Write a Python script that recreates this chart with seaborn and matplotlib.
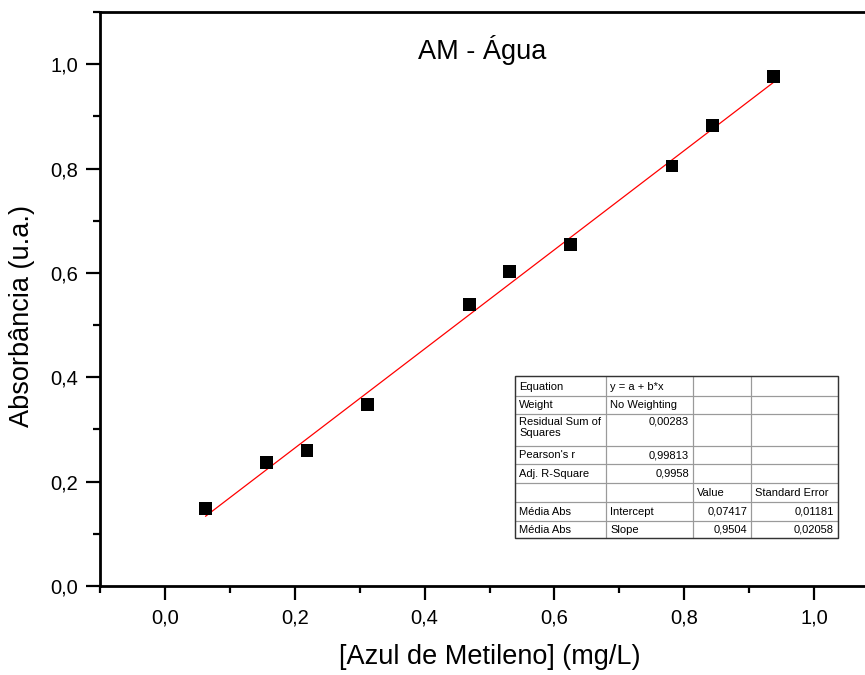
import numpy as np
import pandas as pd
import seaborn as sns
import matplotlib
matplotlib.use("Agg")
import matplotlib.pyplot as plt
from matplotlib.patches import Rectangle
from matplotlib.ticker import MultipleLocator, FuncFormatter

# ---- data ----
conc = [0.0625, 0.156, 0.219, 0.3125, 0.469, 0.531, 0.625, 0.781, 0.844, 0.9375]
absorb = [0.148, 0.236, 0.260, 0.348, 0.539, 0.602, 0.654, 0.805, 0.883, 0.977]
intercept = 0.07417
slope = 0.9504

table_rows = [
    ["Equation", "y = a + b*x", "", ""],
    ["Weight", "No Weighting", "", ""],
    ["Residual Sum of\nSquares", "0,00283", "", ""],
    ["Pearson's r", "0,99813", "", ""],
    ["Adj. R-Square", "0,9958", "", ""],
    ["", "", "Value", "Standard Error"],
    ["Média Abs", "Intercept", "0,07417", "0,01181"],
    ["Média Abs", "Slope", "0,9504", "0,02058"],
]
# alignment per cell: 'l' or 'r'
table_align = [
    ["l", "l", "l", "l"],
    ["l", "l", "l", "l"],
    ["l", "r", "l", "l"],
    ["l", "r", "l", "l"],
    ["l", "r", "l", "l"],
    ["l", "l", "l", "l"],
    ["l", "l", "r", "r"],
    ["l", "l", "r", "r"],
]

df = pd.DataFrame({"conc": conc, "abs": absorb})
xfit = np.array([min(conc), max(conc)])
fit = pd.DataFrame({"x": xfit, "y": intercept + slope * xfit})

sns.set_theme(style="ticks")
plt.rcParams["font.family"] = ["Liberation Sans", "DejaVu Sans"]
plt.rcParams["text.color"] = "black"
plt.rcParams["axes.labelcolor"] = "black"
plt.rcParams["xtick.color"] = "black"
plt.rcParams["ytick.color"] = "black"

W, H = 865, 675
fig = plt.figure(figsize=(W / 100, H / 100), dpi=100)
ax_left, ax_right, ax_top, ax_bottom = 100, 879, 12, 586
ax = fig.add_axes([ax_left / W, (H - ax_bottom) / H,
                   (ax_right - ax_left) / W, (ax_bottom - ax_top) / H])

sns.lineplot(data=fit, x="x", y="y", color="red", lw=0.9, ax=ax, zorder=2)
sns.scatterplot(data=df, x="conc", y="abs", marker="s", s=85, color="black",
                edgecolor="none", ax=ax, zorder=3)

ax.set_xlim(-0.1, 1.1)
ax.set_ylim(0, 1.1)
ax.xaxis.set_major_locator(MultipleLocator(0.2))
ax.xaxis.set_minor_locator(MultipleLocator(0.1))
ax.yaxis.set_major_locator(MultipleLocator(0.2))
ax.yaxis.set_minor_locator(MultipleLocator(0.1))
fmt = FuncFormatter(lambda v, p: f"{v:.1f}".replace(".", ",").replace("-0,0", "0,0"))
ax.xaxis.set_major_formatter(fmt)
ax.yaxis.set_major_formatter(fmt)

for s in ax.spines.values():
    s.set_linewidth(2)
    s.set_color("black")
ax.tick_params(which="major", direction="out", length=10, width=1.6,
               labelsize=14.5, pad=6, colors="black")
ax.tick_params(which="minor", direction="out", length=5, width=1.6)
ax.tick_params(top=False, right=False, which="both")

ax.set_xlabel("[Azul de Metileno] (mg/L)", fontsize=19.5, labelpad=12, color="black")
ax.set_ylabel("Absorbância (u.a.)", fontsize=19.5, color="black")
ax.yaxis.set_label_coords(-0.084, 0.47)
ax.text(0.49, 0.934, "AM - Água", transform=ax.transAxes, fontsize=19.5,
        ha="center", va="center", color="black")

# ---- statistics table (pixel layout converted to axes coords) ----
col_px = [515, 606, 693, 751, 838]
row_px = [376, 396, 414, 446, 464, 483, 502, 521, 538]

def ax_x(px):
    return (px - ax_left) / (ax_right - ax_left)

def ax_y(py):
    return (ax_bottom - py) / (ax_bottom - ax_top)

ax.add_patch(Rectangle((ax_x(col_px[0]), ax_y(row_px[-1])),
                       ax_x(col_px[-1]) - ax_x(col_px[0]),
                       ax_y(row_px[0]) - ax_y(row_px[-1]),
                       transform=ax.transAxes, facecolor="white",
                       edgecolor="none", zorder=4))
for r, row in enumerate(table_rows):
    for c, txt in enumerate(row):
        x0, x1 = col_px[c], col_px[c + 1]
        y0, y1 = row_px[r], row_px[r + 1]
        ax.add_patch(Rectangle((ax_x(x0), ax_y(y1)), ax_x(x1) - ax_x(x0),
                               ax_y(y0) - ax_y(y1), transform=ax.transAxes,
                               facecolor="none", edgecolor="#9a9a9a", lw=0.8,
                               zorder=5))
        if txt:
            if table_align[r][c] == "l":
                tx, ha = x0 + 4, "left"
            else:
                tx, ha = x1 - 4, "right"
            if r == 2:
                ty, va = y0 + 3, "top"
            else:
                ty, va = (y0 + y1) / 2 + 0.5, "center"
            ax.text(ax_x(tx), ax_y(ty), txt, transform=ax.transAxes,
                    fontsize=8, ha=ha, va=va, zorder=6, linespacing=1.15,
                    color="black")
ax.add_patch(Rectangle((ax_x(col_px[0]), ax_y(row_px[-1])),
                       ax_x(col_px[-1]) - ax_x(col_px[0]),
                       ax_y(row_px[0]) - ax_y(row_px[-1]),
                       transform=ax.transAxes, facecolor="none",
                       edgecolor="#333333", lw=1.0, zorder=7))

fig.savefig("out.png", dpi=100)
